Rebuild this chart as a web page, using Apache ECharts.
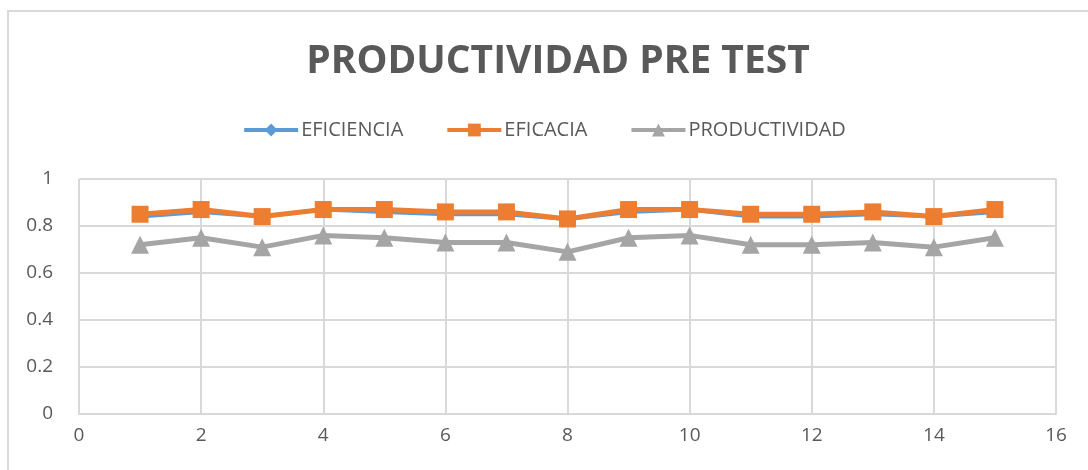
<!DOCTYPE html>
<html>
<head>
<meta charset="utf-8">
<script src="https://cdn.jsdelivr.net/npm/echarts@6/dist/echarts.min.js"></script>
<style>
  html, body { margin: 0; padding: 0; background: #fff; }
  #chart { width: 1088px; height: 470px; }
</style>
</head>
<body>
<div id="chart"></div>
<script>
  // x positions 1..15
  let xValues = [1, 2, 3, 4, 5, 6, 7, 8, 9, 10, 11, 12, 13, 14, 15];
  let eficiencia = [0.84, 0.86, 0.84, 0.87, 0.86, 0.85, 0.85, 0.83, 0.86, 0.87, 0.84, 0.84, 0.85, 0.84, 0.86];
  let eficacia = [0.85, 0.87, 0.84, 0.87, 0.87, 0.86, 0.86, 0.83, 0.87, 0.87, 0.85, 0.85, 0.86, 0.84, 0.87];
  let productividad = [0.72, 0.75, 0.71, 0.76, 0.75, 0.73, 0.73, 0.69, 0.75, 0.76, 0.72, 0.72, 0.73, 0.71, 0.75];
  let seriesNames = ['EFICIENCIA', 'EFICACIA', 'PRODUCTIVIDAD'];

  let pairs = (ys) => xValues.map((x, i) => [x, ys[i]]);

  let chart = echarts.init(document.getElementById('chart'));
  let textColor = '#595959';
  let gridColor = '#d9d9d9';

  let chartOptions = {
    animation: false,
    color: ['#5b9bd5', '#ed7d31', '#a5a5a5'],
    textStyle: { fontFamily: 'Open Sans' },
    title: {
      text: 'PRODUCTIVIDAD PRE TEST',
      left: 553,
      textAlign: 'center',
      top: 37,
      textStyle: {
        fontFamily: 'Open Sans',
        fontWeight: 'bold',
        fontSize: 39,
        color: textColor
      }
    },
    legend: {
      top: 115,
      left: 'center',
      itemWidth: 54,
      itemHeight: 16,
      itemGap: 42,
      lineStyle: { width: 4 },
      textStyle: { fontFamily: 'Open Sans', fontSize: 20, color: textColor, padding: [0, 0, 0, -2] },
      data: seriesNames
    },
    grid: { left: 79, right: 32, top: 179, bottom: 56 },
    xAxis: {
      type: 'value',
      min: 0,
      max: 16,
      interval: 2,
      axisLine: { show: true, lineStyle: { color: gridColor, width: 2 } },
      axisTick: { show: false },
      axisLabel: { color: textColor, fontSize: 19, margin: 12 },
      splitLine: { show: true, lineStyle: { color: gridColor, width: 2 } }
    },
    yAxis: {
      type: 'value',
      min: 0,
      max: 1,
      interval: 0.2,
      axisLine: { show: false },
      axisTick: { show: false },
      axisLabel: { color: textColor, fontSize: 19, margin: 26 },
      splitLine: { show: true, lineStyle: { color: gridColor, width: 2 } }
    },
    graphic: [{
      type: 'rect',
      shape: { x: 8, y: 11, width: 1200, height: 600 },
      style: { fill: 'none', stroke: gridColor, lineWidth: 2 },
      silent: true
    }],
    series: [
      {
        name: 'EFICIENCIA',
        type: 'line',
        symbol: 'diamond',
        symbolSize: 11,
        lineStyle: { width: 4 },
        data: pairs(eficiencia)
      },
      {
        name: 'EFICACIA',
        type: 'line',
        symbol: 'rect',
        symbolSize: 17,
        lineStyle: { width: 5 },
        data: pairs(eficacia)
      },
      {
        name: 'PRODUCTIVIDAD',
        type: 'line',
        symbol: 'triangle',
        symbolSize: 18,
        lineStyle: { width: 5 },
        data: pairs(productividad)
      }
    ]
  };

  chart.setOption(chartOptions);
</script>
</body>
</html>
